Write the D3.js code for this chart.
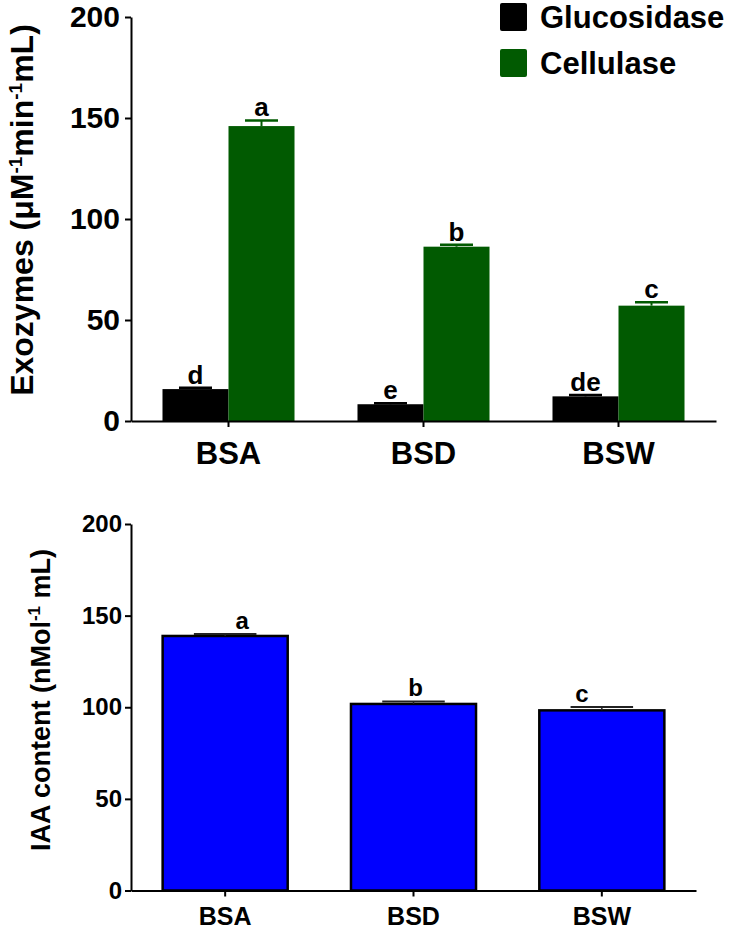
<!DOCTYPE html>
<html>
<head>
<meta charset="utf-8">
<script src="https://cdn.jsdelivr.net/npm/d3@7"></script>
<style>
  html, body { margin: 0; padding: 0; background: #fff; }
  svg { display: block; }
  text { font-family: "Liberation Sans", Arial, sans-serif; font-weight: bold; fill: #000; }
</style>
</head>
<body>
<svg id="chart" width="730" height="930"></svg>
<script>
// ---------- data ----------
const categories = ["BSA", "BSD", "BSW"];
const enzymeSeries = ["Glucosidase", "Cellulase"];
const glucosidase = [15.8, 8.3, 12.2];
const glucosidaseErr = [0.7, 0.5, 0.7];
const glucosidaseLetters = ["d", "e", "de"];
const cellulase = [146.0, 86.3, 57.1];
const cellulaseErr = [2.8, 1.0, 1.7];
const cellulaseLetters = ["a", "b", "c"];
const iaa = [138.9, 101.8, 98.3];
const iaaErr = [1.1, 1.4, 1.8];
const iaaLetters = ["a", "b", "c"];
const yTicks = [0, 50, 100, 150, 200];

// ---------- styling ----------
const enzymeColors = { Glucosidase: "#000000", Cellulase: "#015a01" };
const iaaColor = "#0000ff";
const iaaLetterDx = [17, 2, -20]; // manual label nudges seen in the reference

const svg = d3.select("#chart");

// ================= TOP CHART =================
const topM = { left: 131, right: 716, top: 17, bottom: 421 };
const x0 = d3.scaleBand().domain(categories).range([topM.left, topM.right])
  .paddingInner(0.323).paddingOuter(0.1615);
const x1 = d3.scaleBand().domain(enzymeSeries).range([0, x0.bandwidth()]);
const y1 = d3.scaleLinear().domain([0, 200]).range([topM.bottom, topM.top]);

const enzymeData = categories.map((c, i) => ({
  cat: c,
  values: [
    { s: "Glucosidase", v: glucosidase[i], e: glucosidaseErr[i], l: glucosidaseLetters[i] },
    { s: "Cellulase", v: cellulase[i], e: cellulaseErr[i], l: cellulaseLetters[i] }
  ]
}));

const gTop = svg.append("g");
const groups = gTop.selectAll("g.grp").data(enzymeData).join("g")
  .attr("class", "grp")
  .attr("transform", d => `translate(${x0(d.cat)},0)`);

groups.selectAll("rect").data(d => d.values).join("rect")
  .attr("x", d => x1(d.s))
  .attr("y", d => y1(d.v))
  .attr("width", x1.bandwidth())
  .attr("height", d => y1(0) - y1(d.v))
  .attr("fill", d => enzymeColors[d.s]);

// error bars (upper only)
groups.selectAll("g.err").data(d => d.values).join("g").attr("class", "err").each(function(d) {
  const g = d3.select(this);
  const cx = x1(d.s) + x1.bandwidth() / 2;
  const half = x1.bandwidth() / 4;
  g.append("line").attr("x1", cx).attr("x2", cx)
    .attr("y1", y1(d.v)).attr("y2", y1(d.v + d.e))
    .attr("stroke", enzymeColors[d.s]).attr("stroke-width", 2);
  g.append("line").attr("x1", cx - half).attr("x2", cx + half)
    .attr("y1", y1(d.v + d.e)).attr("y2", y1(d.v + d.e))
    .attr("stroke", enzymeColors[d.s]).attr("stroke-width", 2.5);
});

groups.selectAll("text.lbl").data(d => d.values).join("text")
  .attr("class", "lbl")
  .attr("x", d => x1(d.s) + x1.bandwidth() / 2)
  .attr("y", d => y1(d.v + d.e) - 4)
  .attr("text-anchor", "middle")
  .attr("font-size", 26)
  .text(d => d.l);

// axes
const yAxisTop = gTop.append("g").attr("transform", `translate(${topM.left},0)`)
  .call(d3.axisLeft(y1).tickValues(yTicks).tickSize(6).tickSizeOuter(0).tickPadding(5));
yAxisTop.selectAll("text").attr("font-size", 30).style("font-family", "Liberation Sans, Arial, sans-serif").style("font-weight", "bold");

const xAxisTop = gTop.append("g").attr("transform", `translate(0,${topM.bottom})`)
  .call(d3.axisBottom(x0).tickSize(6).tickSizeOuter(0).tickPadding(15));
xAxisTop.selectAll("text").attr("font-size", 31).style("font-family", "Liberation Sans, Arial, sans-serif").style("font-weight", "bold");

[yAxisTop, xAxisTop].forEach(a => {
  a.select(".domain").attr("stroke", "#000").attr("stroke-width", 2);
  a.selectAll(".tick line").attr("stroke", "#000").attr("stroke-width", 2);
  a.selectAll("text").attr("fill", "#000");
});

// y title
const t1 = gTop.append("text")
  .attr("transform", "translate(33,210) rotate(-90)")
  .attr("text-anchor", "middle")
  .attr("font-size", 32);
t1.append("tspan").text("Exozymes (μM");
t1.append("tspan").attr("dy", -11).attr("font-size", 19).text("-1");
t1.append("tspan").attr("dy", 11).text("min");
t1.append("tspan").attr("dy", -11).attr("font-size", 19).text("-1");
t1.append("tspan").attr("dy", 11).text("mL)");

// legend
const legend = gTop.append("g");
enzymeSeries.forEach((s, i) => {
  const ly = 3 + i * 46;
  legend.append("rect").attr("x", 500).attr("y", ly).attr("width", 27).attr("height", 28)
    .attr("rx", 2).attr("fill", enzymeColors[s]);
  legend.append("text").attr("x", 540).attr("y", ly + 25).attr("font-size", 31).text(s);
});

// ================= BOTTOM CHART =================
const botM = { left: 131, right: 696, top: 524, bottom: 890.5 };
const xb = d3.scaleBand().domain(categories).range([botM.left, botM.right])
  .paddingInner(0.336).paddingOuter(0.168);
const yb = d3.scaleLinear().domain([0, 200]).range([botM.bottom, botM.top]);

const iaaData = categories.map((c, i) => ({ cat: c, v: iaa[i], e: iaaErr[i], l: iaaLetters[i], dx: iaaLetterDx[i] }));
const gBot = svg.append("g");

gBot.selectAll("rect.bar").data(iaaData).join("rect")
  .attr("class", "bar")
  .attr("x", d => xb(d.cat))
  .attr("y", d => yb(d.v))
  .attr("width", xb.bandwidth())
  .attr("height", d => yb(0) - yb(d.v))
  .attr("fill", iaaColor)
  .attr("stroke", "#000")
  .attr("stroke-width", 2.5);

gBot.selectAll("g.err").data(iaaData).join("g").attr("class", "err").each(function(d) {
  const g = d3.select(this);
  const cx = xb(d.cat) + xb.bandwidth() / 2;
  const half = xb.bandwidth() / 4;
  g.append("line").attr("x1", cx).attr("x2", cx)
    .attr("y1", yb(d.v)).attr("y2", yb(d.v + d.e))
    .attr("stroke", "#222").attr("stroke-width", 1.5);
  g.append("line").attr("x1", cx - half).attr("x2", cx + half)
    .attr("y1", yb(d.v + d.e)).attr("y2", yb(d.v + d.e))
    .attr("stroke", "#222").attr("stroke-width", 2);
});

gBot.selectAll("text.lbl").data(iaaData).join("text")
  .attr("class", "lbl")
  .attr("x", d => xb(d.cat) + xb.bandwidth() / 2 + d.dx)
  .attr("y", d => yb(d.v + d.e) - 5)
  .attr("text-anchor", "middle")
  .attr("font-size", 24)
  .text(d => d.l);

const yAxisBot = gBot.append("g").attr("transform", `translate(${botM.left},0)`)
  .call(d3.axisLeft(yb).tickValues(yTicks).tickSize(6).tickSizeOuter(0).tickPadding(3));
yAxisBot.selectAll("text").attr("font-size", 24).style("font-family", "Liberation Sans, Arial, sans-serif").style("font-weight", "bold");

const xAxisBot = gBot.append("g").attr("transform", `translate(0,${botM.bottom})`)
  .call(d3.axisBottom(xb).tickSize(6).tickSizeOuter(0).tickPadding(11));
xAxisBot.selectAll("text").attr("font-size", 25).style("font-family", "Liberation Sans, Arial, sans-serif").style("font-weight", "bold");

[yAxisBot, xAxisBot].forEach(a => {
  a.select(".domain").attr("stroke", "#000").attr("stroke-width", 2);
  a.selectAll(".tick line").attr("stroke", "#000").attr("stroke-width", 2);
  a.selectAll("text").attr("fill", "#000");
});

const t2 = gBot.append("text")
  .attr("transform", "translate(50,700) rotate(-90)")
  .attr("text-anchor", "middle")
  .attr("font-size", 27);
t2.append("tspan").text("IAA content (nMol");
t2.append("tspan").attr("dy", -10).attr("font-size", 17).text("-1");
t2.append("tspan").attr("dy", 10).text(" mL)");
</script>
</body>
</html>
